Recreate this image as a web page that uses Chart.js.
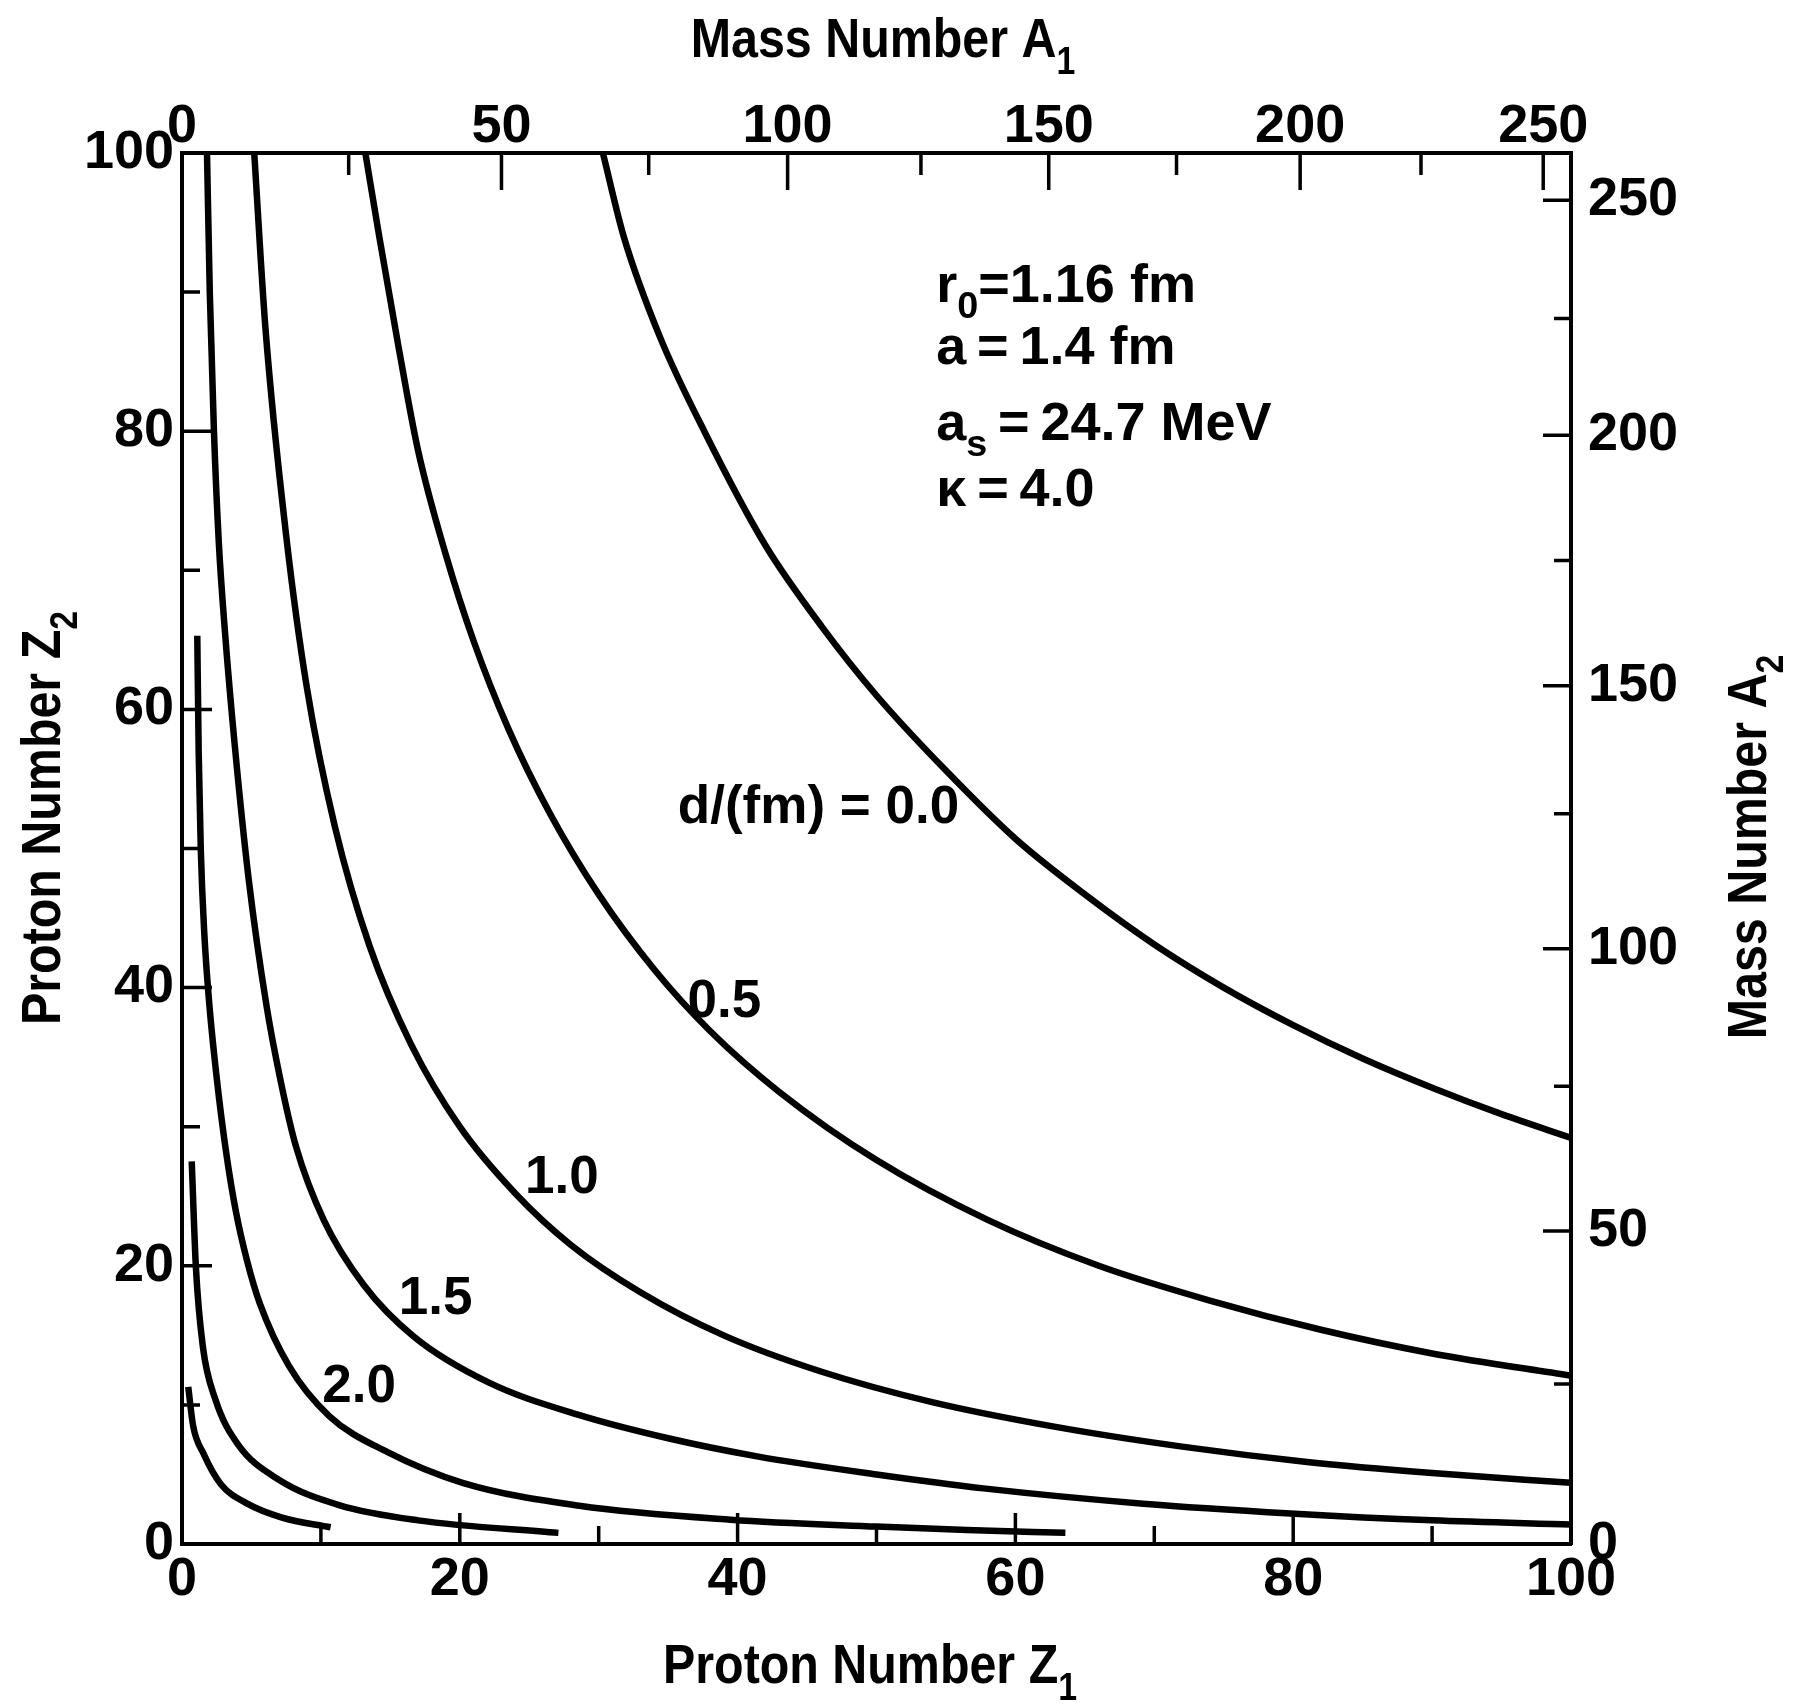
<!DOCTYPE html>
<html>
<head>
<meta charset="utf-8">
<title>Proton Number Z1 vs Z2</title>
<script src="https://cdn.jsdelivr.net/npm/chart.js@4.4.1/dist/chart.umd.min.js"></script>
<style>
  html, body { margin: 0; padding: 0; background: #fff; }
  #wrap { width: 1807px; height: 1708px; }
</style>
</head>
<body>
<div id="wrap"><canvas id="chart" width="1807" height="1708"></canvas></div>
<script>
// ----- Axis ticks -----
const z1Ticks = [0, 10, 20, 30, 40, 50, 60, 70, 80, 90, 100];
const z1Labels = ['0', '', '20', '', '40', '', '60', '', '80', '', '100'];
const z2Ticks = [0, 10, 20, 30, 40, 50, 60, 70, 80, 90, 100];
const z2Labels = ['0', '', '20', '', '40', '', '60', '', '80', '', '100'];

// mass number ticks and where they sit on the proton-number scale
const massTicks = [0, 25, 50, 75, 100, 125, 150, 175, 200, 225, 250];
const massLabels = ['0', '', '50', '', '100', '', '150', '', '200', '', '250'];
const massTopZ = [0, 12.0, 23.0, 33.6, 43.6, 53.2, 62.4, 71.6, 80.5, 89.2, 98.0];
const massRightZ = [0, 11.5, 22.5, 32.9, 42.8, 52.5, 61.7, 70.7, 79.7, 88.1, 96.6];

// ----- Curves (Z1, Z2) for each separation d -----
const d00Z1 = [30.3, 31.8, 34.4, 37.6, 42.0, 46.1, 50, 55, 60, 65, 70, 75, 80, 85, 90, 95, 100];
const d00Z2 = [100, 94.0, 86.8, 80.0, 71.8, 65.9, 61.0, 55.6, 50.7, 46.7, 43.1, 40.0, 37.3, 34.9, 32.8, 30.9, 29.2];

const d05Z1 = [13.2, 14.2, 15.6, 17, 19, 21, 23.5, 26.5, 30, 34, 38, 43, 50, 58, 66, 74, 82, 90, 100];
const d05Z2 = [100, 94.0, 86.0, 78.6, 71.1, 64.9, 58.6, 52.5, 46.7, 41.3, 36.9, 32.5, 27.6, 23.3, 20.0, 17.5, 15.4, 13.7, 12.1];

const d10Z1 = [5.2, 6, 7.5, 9, 11, 13.5, 16.5, 20, 24, 28, 33, 39, 46, 54, 63, 72, 81, 90, 100];
const d10Z2 = [100, 87.5, 72.5, 61.5, 51.6, 43.0, 35.9, 30.0, 25.2, 21.5, 18.1, 15.0, 12.4, 10.2, 8.4, 7.0, 5.9, 5.1, 4.4];

const d15Z1 = [1.8, 2.0, 2.3, 2.65, 3.1, 3.8, 4.8, 6.1, 7.1, 8.2, 10.2, 13.1, 16.7, 22.1, 28.5, 35.0, 41.4, 50.0, 57.7, 69.2, 79.8, 90.0, 100];
const d15Z2 = [100, 90, 80, 72, 65.5, 57.4, 47.8, 38.6, 33.3, 28.6, 23.3, 18.6, 14.9, 11.6, 9.3, 7.6, 6.3, 5.0, 4.0, 2.9, 2.2, 1.7, 1.4];

const d20Z1 = [1.1, 1.2, 1.35, 1.6, 1.95, 2.5, 3.2, 3.9, 4.7, 5.6, 7.7, 10.6, 14.8, 20.2, 28.6, 39.5, 50, 56.5, 63.6];
const d20Z2 = [65.3, 57, 50, 44, 39, 33.5, 28, 23.8, 20.3, 17.3, 12.8, 9.2, 6.6, 4.4, 2.75, 1.75, 1.25, 1.0, 0.8];

const d25Z1 = [0.7, 1.0, 1.5, 2.4, 4.0, 7.0, 11.3, 17.0, 27.1];
const d25Z2 = [27.5, 19.9, 14.2, 10.4, 7.2, 4.6, 2.8, 1.7, 0.8];

const d30Z1 = [0.45, 0.8, 1.55, 2.8, 4.7, 7.2, 10.7];
const d30Z2 = [11.3, 8.5, 6.5, 4.3, 2.9, 1.9, 1.2];

// ----- Fonts -----
const fontFamily = '"Liberation Sans", Arial, sans-serif';

function setFont(ctx, size) {
    ctx.font = 'bold ' + size + 'px ' + fontFamily;
}

// width of text made of normal and subscript pieces
function measureRich(ctx, parts, size) {
    let w = 0;
    parts.forEach(p => {
        setFont(ctx, p.sub ? size * 0.7 : size);
        w += ctx.measureText(p.t).width;
    });
    return w;
}

function drawRich(ctx, parts, x, y, size, opts) {
    opts = opts || {};
    const sx = opts.hScale || 1;
    const w = measureRich(ctx, parts, size) * sx;
    ctx.save();
    ctx.translate(x, y);
    if (opts.rotate) ctx.rotate(opts.rotate);
    if (opts.align === 'center') ctx.translate(-w / 2, 0);
    ctx.scale(sx, 1);
    ctx.fillStyle = '#000';
    ctx.textAlign = 'left';
    ctx.textBaseline = 'alphabetic';
    let cx = 0;
    parts.forEach(p => {
        setFont(ctx, p.sub ? size * 0.7 : size);
        ctx.fillText(p.t, cx, p.sub ? size * 0.3 : 0);
        cx += ctx.measureText(p.t).width;
    });
    ctx.restore();
}

// ----- Inward tick marks -----
const tickMarks = {
    id: 'tickMarks',
    afterDatasetsDraw(chart) {
        const { ctx, chartArea: a, scales } = chart;
        ctx.save();
        ctx.strokeStyle = '#000';
        ctx.lineWidth = 3.5;
        ctx.beginPath();
        z1Ticks.forEach((v, i) => {
            const px = scales.x.getPixelForValue(v);
            const len = z1Labels[i] ? 31 : 18;
            ctx.moveTo(px, a.bottom);
            ctx.lineTo(px, a.bottom - len);
        });
        z2Ticks.forEach((v, i) => {
            const py = scales.y.getPixelForValue(v);
            const len = z2Labels[i] ? 30 : 18;
            ctx.moveTo(a.left, py);
            ctx.lineTo(a.left + len, py);
        });
        massTopZ.forEach((v, i) => {
            const px = scales.xTop.getPixelForValue(v);
            const len = massLabels[i] ? 37 : 22;
            ctx.moveTo(px, a.top);
            ctx.lineTo(px, a.top + len);
        });
        massRightZ.forEach((v, i) => {
            const py = scales.yRight.getPixelForValue(v);
            const len = massLabels[i] ? 28 : 17;
            ctx.moveTo(a.right, py);
            ctx.lineTo(a.right - len, py);
        });
        ctx.stroke();
        ctx.restore();
    }
};

// ----- Titles, curve labels and parameters -----
const annotations = {
    id: 'annotations',
    afterDraw(chart) {
        const { ctx, scales } = chart;
        const x = scales.x, y = scales.y;

        drawRich(ctx, [{ t: 'Mass Number A' }, { t: '1', sub: true }], 883, 57, 55, { align: 'center', hScale: 0.88 });
        drawRich(ctx, [{ t: 'Proton Number Z' }, { t: '1', sub: true }], 870, 1683, 55, { align: 'center', hScale: 0.88 });
        drawRich(ctx, [{ t: 'Proton Number Z' }, { t: '2', sub: true }], 60, 818, 55, { align: 'center', hScale: 0.88, rotate: -Math.PI / 2 });
        drawRich(ctx, [{ t: 'Mass Number A' }, { t: '2', sub: true }], 1766, 847, 55, { align: 'center', hScale: 0.88, rotate: -Math.PI / 2 });

        // curve labels
        const curveText = [
            ['d/(fm) = 0.0', 35.7, 51.8],
            ['0.5', 36.4, 37.9],
            ['1.0', 24.7, 25.2],
            ['1.5', 15.6, 16.5],
            ['2.0', 10.1, 10.2],
        ];
        curveText.forEach(([t, zx, zy]) => {
            drawRich(ctx, [{ t: t }], x.getPixelForValue(zx), y.getPixelForValue(zy), 53);
        });

        // model parameters
        const px = x.getPixelForValue(54.3);
        const eq = '\u2009=\u2009';
        drawRich(ctx, [{ t: 'r' }, { t: '0', sub: true }, { t: '=1.16 fm' }], px, y.getPixelForValue(89.3), 54);
        drawRich(ctx, [{ t: 'a' + eq + '1.4 fm' }], px, y.getPixelForValue(84.8), 54);
        drawRich(ctx, [{ t: 'a' }, { t: 's', sub: true }, { t: eq + '24.7 MeV' }], px, y.getPixelForValue(79.4), 54);
        drawRich(ctx, [{ t: '\u03BA' + eq + '4.0' }], px, y.getPixelForValue(74.6), 54);
    }
};

// ----- Build datasets -----
function makeCurve(name, z1, z2) {
    return {
        label: 'd = ' + name,
        data: z1.map((v, i) => ({ x: v, y: z2[i] })),
        borderColor: '#000',
        borderWidth: 6.5,
        pointRadius: 0,
        fill: false,
        cubicInterpolationMode: 'monotone',
        xAxisID: 'x',
        yAxisID: 'y',
    };
}

const datasets = [
    makeCurve('0.0', d00Z1, d00Z2),
    makeCurve('0.5', d05Z1, d05Z2),
    makeCurve('1.0', d10Z1, d10Z2),
    makeCurve('1.5', d15Z1, d15Z2),
    makeCurve('2.0', d20Z1, d20Z2),
    makeCurve('2.5', d25Z1, d25Z2),
    makeCurve('3.0', d30Z1, d30Z2),
];

// ----- Shared axis style -----
const tickFont = { family: fontFamily, size: 54, weight: 'bold' };

function axisBase() {
    return {
        type: 'linear',
        min: 0,
        max: 100,
        grid: { display: true, drawOnChartArea: false, drawTicks: false },
        border: { display: true, color: '#000', width: 4 },
        ticks: { autoSkip: false, maxRotation: 0, color: '#000', font: tickFont },
    };
}

const xAxis = axisBase();
xAxis.position = 'bottom';
xAxis.afterBuildTicks = s => { s.ticks = z1Ticks.map(v => ({ value: v })); };
xAxis.ticks.callback = (v, i) => z1Labels[i];
xAxis.ticks.padding = 4;
xAxis.afterFit = s => { s.height = 164; };

const yAxis = axisBase();
yAxis.position = 'left';
yAxis.afterBuildTicks = s => { s.ticks = z2Ticks.map(v => ({ value: v })); };
yAxis.ticks.callback = (v, i) => z2Labels[i];
yAxis.ticks.padding = 8;
yAxis.afterFit = s => { s.width = 182; };

const xTopAxis = axisBase();
xTopAxis.position = 'top';
xTopAxis.afterBuildTicks = s => { s.ticks = massTopZ.map(v => ({ value: v })); };
xTopAxis.ticks.callback = (v, i) => massLabels[i];
xTopAxis.ticks.padding = 0;
xTopAxis.ticks.font = { family: fontFamily, size: 54, weight: 'bold', lineHeight: 0.95 };
xTopAxis.afterFit = s => { s.height = 153; };

const yRightAxis = axisBase();
yRightAxis.position = 'right';
yRightAxis.afterBuildTicks = s => { s.ticks = massRightZ.map(v => ({ value: v })); };
yRightAxis.ticks.callback = (v, i) => massLabels[i];
yRightAxis.ticks.padding = 17;
yRightAxis.afterFit = s => { s.width = 236; };

// ----- Chart -----
const ctx = document.getElementById('chart').getContext('2d');
const chart = new Chart(ctx, {
    type: 'line',
    data: { datasets: datasets },
    options: {
        responsive: false,
        devicePixelRatio: 1,
        animation: false,
        events: [],
        layout: { padding: 0 },
        plugins: {
            legend: { display: false },
            tooltip: { enabled: false },
        },
        scales: {
            x: xAxis,
            y: yAxis,
            xTop: xTopAxis,
            yRight: yRightAxis,
        },
    },
    plugins: [tickMarks, annotations],
});
</script>
</body>
</html>
